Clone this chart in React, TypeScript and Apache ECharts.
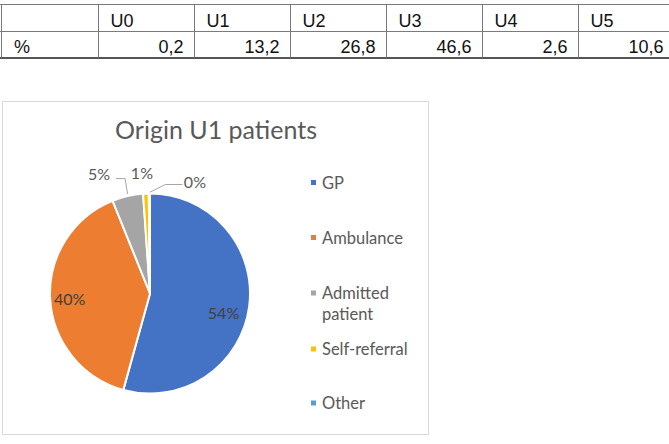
import React, { useEffect, useRef } from "react";
import * as echarts from "echarts";

// ---- data ----
const categories = ["GP", "Ambulance", "Admitted patient", "Self-referral", "Other"];
const shares = [54.3, 39.6, 5.0, 0.9, 0.2];
const sliceColors = ["#4472C4", "#ED7D31", "#A5A5A5", "#FFC000", "#5B9BD5"];
const chartTitle = "Origin U1 patients";

const tableHeaders = ["U0", "U1", "U2", "U3", "U4", "U5"];
const tableRowLabel = "%";
const tableValues = [0.2, 13.2, 26.8, 46.6, 2.6, 10.6];

// ---- layout ----
const PIE_CENTER = [150, 293.5];
const PIE_RADIUS = 100;
const LEGEND_ICON_Y = [184, 239, 294.5, 350.5, 404.5];
const TABLE = { left: 1.5, firstW: 97, colW: 96, top: 4.5, rowH: 27 };

const FONT = "Lato, 'Open Sans', sans-serif";
const TFONT = "'Liberation Sans', Arial, sans-serif";

function buildTable() {
  const els: any[] = [];
  const xs: number[] = [TABLE.left];
  let x = TABLE.left + TABLE.firstW;
  for (let i = 0; i <= tableHeaders.length; i++) {
    xs.push(x);
    x += TABLE.colW;
  }
  const y0 = TABLE.top;
  const y1 = y0 + TABLE.rowH;
  const y2 = y1 + TABLE.rowH - 0.5;
  const stroke = "#7a7a7a";
  [y0, y1].forEach((y) =>
    els.push({ type: "line", silent: true, shape: { x1: 0, y1: y, x2: 669, y2: y }, style: { stroke, lineWidth: 1 } })
  );
  els.push({ type: "line", silent: true, shape: { x1: 0, y1: y2, x2: 669, y2: y2 }, style: { stroke: "#555", lineWidth: 2 } });
  xs.forEach((vx) =>
    els.push({ type: "line", silent: true, shape: { x1: vx, y1: y0, x2: vx, y2: y2 }, style: { stroke, lineWidth: 1 } })
  );
  const txt = (text: string, tx: number, ty: number, align: string) => ({
    type: "text",
    silent: true,
    x: tx,
    y: ty,
    style: {
      text,
      fill: "#111",
      fontSize: 18,
      fontFamily: TFONT,
      align,
      textAlign: align,
      verticalAlign: "middle",
      textVerticalAlign: "middle",
    },
  });
  els.push(txt(tableRowLabel, TABLE.left + 12.5, 46.5, "left"));
  tableHeaders.forEach((h, i) => {
    const left = xs[i + 1];
    const right = xs[i + 2];
    els.push(txt(h, left + 12, 21, "left"));
    els.push(txt(tableValues[i].toFixed(1).replace(".", ","), right - 11, 46.5, "right"));
  });
  return els;
}

export default function App() {
  const ref = useRef<HTMLDivElement>(null);
  useEffect(() => {
    if (!ref.current) return;
    const chart = echarts.init(ref.current, null, { renderer: "svg" });
    const total = shares.reduce((a, b) => a + b, 0);

    const legends = categories.map((name, i) => {
      const twoLine = name === "Admitted patient";
      return {
        orient: "vertical",
        left: 309,
        top: LEGEND_ICON_Y[i] - (twoLine ? 33 : 12),
        padding: 0,
        itemWidth: 7,
        itemHeight: 7,
        icon: "rect",
        selectedMode: false,
        formatter: (n: string) => (n === "Admitted patient" ? "\nAdmitted\npatient" : n),
        textStyle: {
          fontFamily: FONT,
          fontSize: 16.5,
          color: "#595959",
          lineHeight: 21,
        },
        data: [name],
      };
    });

    const option: any = {
      animation: false,
      backgroundColor: "#fff",
      title: {
        text: chartTitle,
        left: 216,
        top: 129,
        padding: 0,
        textAlign: "center",
        textVerticalAlign: "middle",
        textStyle: { fontFamily: FONT, fontSize: 25, fontWeight: "normal", color: "#595959" },
      },
      legend: legends,
      graphic: [
        ...buildTable(),
        {
          type: "rect",
          silent: true,
          shape: { x: 2.5, y: 101.5, width: 426, height: 333 },
          style: { fill: "none", stroke: "#d9d9d9", lineWidth: 1 },
        },
      ],
      series: [
        {
          type: "pie",
          center: PIE_CENTER,
          radius: PIE_RADIUS,
          startAngle: 90,
          clockwise: true,
          avoidLabelOverlap: false,
          emphasis: { disabled: true },
          itemStyle: { borderColor: "#fff", borderWidth: 2 },
          label: {
            show: true,
            fontFamily: FONT,
            fontSize: 16,
            color: "#595959",
            formatter: (p: any) => `${Math.round((p.value / total) * 100)}%`,
          },
          labelLine: { show: false },
          data: categories.map((name, i) => ({
            name,
            value: shares[i],
            itemStyle: { color: sliceColors[i] },
            label: i <= 1 ? { position: "inside", color: "#404040" } : { position: "outside" },
            labelLine:
              i <= 1
                ? { show: false }
                : {
                    show: true,
                    length: 17,
                    length2: 9,
                    lineStyle: { color: "#a6a6a6", width: 1, opacity: i === 3 ? 0 : 1 },
                  },
          })),
          labelLayout: (p: any) => {
            const i = p.dataIndex;
            if (i <= 1) {
              const r = p.labelRect;
              const lx = r.x + r.width / 2;
              const ly = r.y + r.height / 2;
              const k = i === 0 ? 1.4 : 1.52;
              return {
                x: PIE_CENTER[0] + (lx - PIE_CENTER[0]) * k,
                y: PIE_CENTER[1] + (ly - PIE_CENTER[1]) * k + (i === 0 ? 9 : 0),
                align: "center",
                verticalAlign: "middle",
              };
            }
            const pts = p.labelLinePoints;
            if (!pts) return {};
            const ex = pts[0][0];
            const ey = pts[0][1];
            if (i === 2) {
              const p1 = [ex - 2.5, ey - 17.5];
              const p2 = [p1[0] - 9, p1[1]];
              return {
                x: p2[0] - 6,
                y: p2[1] - 5,
                align: "right",
                verticalAlign: "middle",
                labelLinePoints: [[ex, ey - 2], p1, p2],
              };
            }
            if (i === 3) {
              return { x: ex - 4, y: ey - 21.5, align: "center", verticalAlign: "middle" };
            }
            const q1 = [ex + 16, ey - 9];
            const q2 = [q1[0] + 17, q1[1]];
            return {
              x: q2[0] + 1.5,
              y: q2[1] - 3.5,
              align: "left",
              verticalAlign: "middle",
              labelLinePoints: [[ex, ey - 1], q1, q2],
            };
          },
        },
      ],
    };
    chart.setOption(option);
    return () => chart.dispose();
  }, []);
  return (
    <div
      ref={ref}
      style={{ position: "fixed", left: 0, top: 0, width: 669, height: 444, background: "#fff" }}
    />
  );
}
